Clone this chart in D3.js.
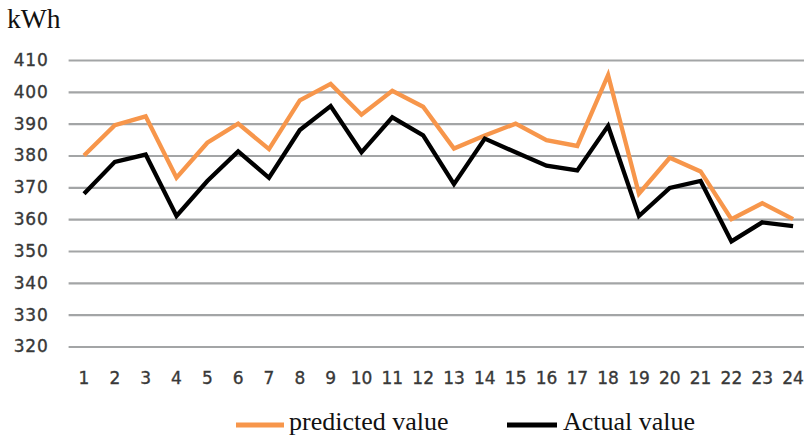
<!DOCTYPE html>
<html>
<head>
<meta charset="utf-8">
<script src="https://cdn.jsdelivr.net/npm/d3@7"></script>
<style>
  html, body { margin: 0; padding: 0; background: #fff; }
  svg { display: block; }
</style>
</head>
<body>
<svg id="chart" width="804" height="435"></svg>
<script>
// Hourly electricity load, kWh
const hours = d3.range(1, 25).map(String);
const predicted = [380, 389.5, 392.3, 373, 384, 390, 382, 397.3, 402.5, 392.8, 400.3, 395.3,
                   382.2, 386.3, 390, 384.8, 383, 405.3, 368, 379.3, 375, 360, 365, 360];
const actual = [368, 378, 380.3, 361, 372, 381.3, 373, 388, 395.5, 381, 392, 386.3,
                371, 385.3, 381, 376.8, 375.3, 389.3, 361, 369.8, 372, 353, 359, 357.8];
const yTicks = [320, 330, 340, 350, 360, 370, 380, 390, 400, 410];
const seriesNames = ["predicted value", "Actual value"];
const seriesColors = ["#F7964B", "#000000"];

const svg = d3.select("#chart");
const plot = { left: 68.6, right: 808.5, top: 60, bottom: 346.5 };

const x = d3.scaleBand().domain(hours).range([plot.left, plot.right]);
const y = d3.scaleLinear().domain([320, 410]).range([plot.bottom, plot.top]);

const tickFont = sel => sel
  .attr("fill", "#383838")
  .attr("stroke", "#383838")
  .attr("stroke-width", 0.35)
  .style("font-family", "'DejaVu Sans', sans-serif")
  .style("font-size", "17px");

// Horizontal gridlines with value labels
const yAxis = d3.axisLeft(y).tickValues(yTicks).tickSize(-(plot.right - plot.left)).tickPadding(20);
const gy = svg.append("g").attr("transform", `translate(${plot.left},0)`).call(yAxis);
gy.select(".domain").remove();
gy.selectAll(".tick line").attr("stroke", "#A3A5A6").attr("stroke-width", 2.2);
gy.selectAll(".tick text")
  .call(tickFont)
  .style("letter-spacing", "0.8px")
  .attr("x", -20);

// Hour labels under the plot
const xAxis = d3.axisBottom(x).tickSize(0).tickPadding(0);
const gx = svg.append("g").attr("transform", `translate(0,${plot.bottom})`).call(xAxis);
gx.select(".domain").remove();
gx.selectAll(".tick text")
  .call(tickFont)
  .attr("dy", null)
  .attr("y", 31)
  .attr("dominant-baseline", "central");

// Unit label
svg.append("text")
  .attr("x", 7).attr("y", 28)
  .style("font-family", "'Liberation Serif', 'Times New Roman', serif")
  .style("font-size", "27.5px")
  .attr("fill", "#111")
  .text("kWh");

// Series lines
const line = d3.line()
  .x((d, i) => x(hours[i]) + x.bandwidth() / 2)
  .y(d => y(d));

[predicted, actual].forEach((vals, k) => {
  svg.append("path")
    .datum(vals)
    .attr("fill", "none")
    .attr("stroke", seriesColors[k])
    .attr("stroke-width", 4.3)
    .attr("stroke-linejoin", "miter")
    .attr("d", line);
});

// Legend
const legendItems = [
  { x0: 236, x1: 284, tx: 289 },
  { x0: 507, x1: 557, tx: 563 }
];
legendItems.forEach((it, k) => {
  svg.append("line")
    .attr("x1", it.x0).attr("x2", it.x1)
    .attr("y1", 425).attr("y2", 425)
    .attr("stroke", seriesColors[k])
    .attr("stroke-width", 5);
  svg.append("text")
    .attr("x", it.tx).attr("y", 430)
    .style("font-family", "'Liberation Serif', 'Times New Roman', serif")
    .style("font-size", "26px")
    .attr("fill", "#111")
    .text(seriesNames[k]);
});
</script>
</body>
</html>
